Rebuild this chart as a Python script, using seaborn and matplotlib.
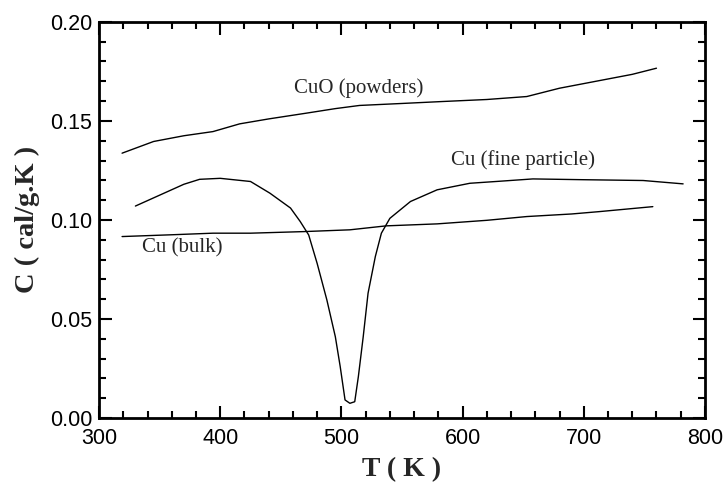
import numpy as np
import pandas as pd
import matplotlib
matplotlib.use("Agg")
import matplotlib.pyplot as plt
from matplotlib.ticker import MultipleLocator, FormatStrFormatter
import seaborn as sns

# values
cuo_T = [319, 345, 370, 394, 416, 440, 471, 495, 515, 550, 584, 620, 653, 680, 716, 740, 760]
cuo_C = [0.1337, 0.1396, 0.1425, 0.1446, 0.1485, 0.1510, 0.1539, 0.1562, 0.1578, 0.1588,
         0.1598, 0.1608, 0.1623, 0.1665, 0.1707, 0.1735, 0.1766]

fine_T = [330, 350, 370, 383, 400, 425, 441, 458, 466, 473, 480, 488, 495, 499, 503, 507,
          511, 514, 518, 522, 528, 533, 540, 557, 579, 606, 630, 658, 700, 749, 782]
fine_C = [0.1070, 0.1125, 0.1180, 0.1205, 0.1210, 0.1194, 0.1135, 0.1060, 0.0992, 0.0924,
          0.0780, 0.0596, 0.0410, 0.0260, 0.0091, 0.0074, 0.0082, 0.0209, 0.0410, 0.0630,
          0.0815, 0.0933, 0.1008, 0.1093, 0.1152, 0.1185, 0.1195, 0.1207, 0.1203, 0.1199, 0.1182]

bulk_T = [319, 360, 394, 425, 469, 507, 537, 579, 620, 653, 690, 713, 757]
bulk_C = [0.0916, 0.0925, 0.0933, 0.0933, 0.0941, 0.0950, 0.0970, 0.0980, 0.0998, 0.1017,
          0.1030, 0.1042, 0.1067]

labels = ["CuO (powders)", "Cu (fine particle)", "Cu (bulk)"]
label_T = [514, 650, 369]
label_C = [0.1667, 0.1303, 0.0859]

df = pd.concat([
    pd.DataFrame({"T": cuo_T, "C": cuo_C, "sample": labels[0]}),
    pd.DataFrame({"T": fine_T, "C": fine_C, "sample": labels[1]}),
    pd.DataFrame({"T": bulk_T, "C": bulk_C, "sample": labels[2]}),
])

sns.set_style("ticks")
plt.rcParams["font.family"] = ["Liberation Sans", "DejaVu Sans"]

fig = plt.figure(figsize=(7.23, 4.86), dpi=100)
ax = fig.add_axes([0.137, 0.140, 0.838, 0.815])

for name in labels:
    sub = df[df["sample"] == name]
    sns.lineplot(x="T", y="C", data=sub, ax=ax, color="black", lw=1.0,
                 sort=False, estimator=None, legend=False)

for txt, tx, cy in zip(labels, label_T, label_C):
    ax.text(tx, cy, txt, ha="center", va="center", fontsize=15,
            family=["Liberation Serif", "DejaVu Serif"])

ax.set_xlim(300, 800)
ax.set_ylim(0.0, 0.20)
ax.xaxis.set_major_locator(MultipleLocator(100))
ax.xaxis.set_minor_locator(MultipleLocator(20))
ax.yaxis.set_major_locator(MultipleLocator(0.05))
ax.yaxis.set_minor_locator(MultipleLocator(0.01))
ax.yaxis.set_major_formatter(FormatStrFormatter("%.2f"))

ax.tick_params(which="both", direction="in", top=True, right=True, width=1.5,
               color="black", labelsize=15.5, labelcolor="black")
ax.tick_params(which="major", length=9)
ax.tick_params(which="minor", length=5)
ax.tick_params(axis="x", which="major", pad=7)
ax.tick_params(axis="y", which="major", pad=5)
for sp in ax.spines.values():
    sp.set_linewidth(2)
    sp.set_color("black")

ax.set_xlabel("T ( K )", fontsize=20, fontweight="bold",
              family=["Liberation Serif", "DejaVu Serif"], labelpad=6)
ax.set_ylabel("C ( cal/g.K )", fontsize=20.5, fontweight="bold",
              family=["Liberation Serif", "DejaVu Serif"], labelpad=7)

fig.savefig("out.png", dpi=100)
